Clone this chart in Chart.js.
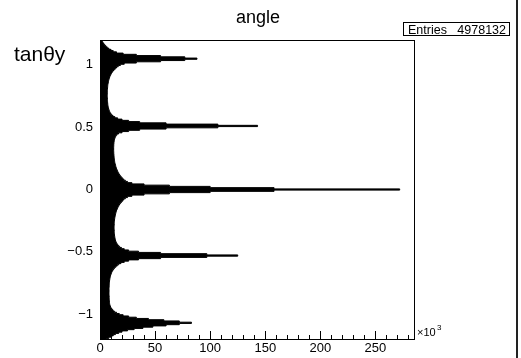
<!DOCTYPE html>
<html>
<head>
<meta charset="utf-8">
<script src="https://cdn.jsdelivr.net/npm/chart.js@4.4.0/dist/chart.umd.min.js"></script>
<style>
  html, body { margin: 0; padding: 0; background: #fff; }
  #wrap { position: relative; width: 521px; height: 358px; }
</style>
</head>
<body>
<div id="wrap"><canvas id="c" width="521" height="358"></canvas></div>
<script>
// histogram "angle": tan(theta_y) from -1.2 to 1.2, bins of 0.01, counts in units of 10^3
const binLow = -1.2;
const binWidth = 0.01;
const counts = [
  6, 8, 10, 12, 14, 17, 20, 25, 31, 39,
  48, 60, 72, 83, 72, 58, 44, 33, 26, 21,
  17.5, 15, 13, 11.8, 10.8, 10, 9.5, 9.1, 8.8, 8.6,
  8.5, 8.4, 8.4, 8.3, 8.3, 8.2, 8.2, 8.2, 8.2, 8.2,
  8.2, 8.2, 8.3, 8.3, 8.4, 8.5, 8.6, 8.7, 8.9, 9.1,
  9.3, 9.6, 10, 10.4, 10.9, 11.5, 12.3, 13.2, 14.3, 15.6,
  17, 19, 22, 26, 35, 55, 97, 125, 97, 55,
  35, 26, 22, 19.5, 17.8, 16.6, 15.7, 15, 14.5, 14.1,
  13.8, 13.6, 13.4, 13.2, 13.1, 13, 12.9, 12.9, 12.8, 12.8,
  12.8, 12.8, 12.9, 12.9, 13, 13.1, 13.2, 13.4, 13.6, 13.8,
  14, 14.3, 14.6, 15, 15.4, 15.9, 16.4, 17, 17.7, 18.5,
  19.5, 20.5, 21.5, 23, 25, 29, 40, 63, 100, 158,
  272,
  158, 100, 63, 40, 29, 25, 23, 21.5, 20.3, 19.3,
  18.4, 17.6, 16.9, 16.3, 15.8, 15.3, 14.9, 14.5, 14.2, 13.9,
  13.6, 13.4, 13.2, 13, 12.9, 12.8, 12.7, 12.6, 12.5, 12.5,
  12.4, 12.4, 12.4, 12.4, 12.5, 12.5, 12.6, 12.7, 12.9, 13.1,
  13.4, 13.8, 14.4, 15.3, 16.8, 20, 26, 36, 60, 107,
  143,
  107, 60, 36, 26, 20, 16, 13.5, 11.8, 10.6, 9.7,
  9, 8.5, 8.1, 7.8, 7.5, 7.3, 7.1, 7, 6.9, 6.8,
  6.7, 6.7, 6.6, 6.6, 6.6, 6.6, 6.6, 6.7, 6.7, 6.8,
  6.9, 7, 7.1, 7.3, 7.5, 7.7, 8, 8.3, 8.7, 9.1,
  9.6, 10.2, 10.9, 11.7, 12.7, 13.8, 15, 16.5, 18.5,
  22,
  33, 55, 77, 88,
  77, 55, 33, 21, 15,
  12, 10, 8, 6.5, 5.3, 4.3, 3.4, 2.6, 2, 1.5
];
const xTicks = [0, 50, 100, 150, 200, 250];
const yTicks = [-1, -0.5, 0, 0.5, 1];
const xMax = 285;
const entries = 4978132;

// step outline: each bin starts at its lower edge; one closing point at the last upper edge
const edge = i => binLow + (i - 0.5) * binWidth;
const points = counts.map((v, i) => ({ x: v, y: edge(i) }));
points.push({ x: counts[counts.length - 1], y: edge(counts.length) });

const FONT = "'Liberation Sans', Arial, Helvetica, sans-serif";
const fmtY = v => v < 0 ? "\u2212" + Math.abs(v) : String(v);

const rootDecor = {
  id: "rootDecor",
  afterDraw(chart) {
    const { ctx, chartArea: a, scales } = chart;
    const xs = scales.x, ys = scales.y;
    ctx.save();
    ctx.strokeStyle = "#000";
    ctx.lineWidth = 1;
    // frame
    ctx.strokeRect(Math.round(a.left) + 0.5, Math.round(a.top) + 0.5,
      Math.round(a.right - a.left), Math.round(a.bottom - a.top));
    // inward ticks, x axis
    ctx.beginPath();
    for (let v = 0; v <= xMax; v += 10) {
      const px = Math.round(xs.getPixelForValue(v)) + 0.5;
      const len = v % 50 === 0 ? 8 : 4;
      ctx.moveTo(px, a.bottom);
      ctx.lineTo(px, a.bottom - len);
    }
    // inward ticks, y axis
    for (let k = -12; k <= 12; k++) {
      const py = Math.round(ys.getPixelForValue(k / 10)) + 0.5;
      const len = k % 5 === 0 ? 8 : 4;
      ctx.moveTo(a.left, py);
      ctx.lineTo(a.left + len, py);
    }
    ctx.stroke();

    ctx.fillStyle = "#000";
    // title
    ctx.font = "18px " + FONT;
    ctx.textAlign = "center";
    ctx.textBaseline = "alphabetic";
    ctx.fillText("angle", 258, 23);
    // axis title
    ctx.font = "21px " + FONT;
    ctx.textAlign = "left";
    ctx.fillText("tan\u03B8y", 14, 61);
    // x10^3
    ctx.font = "11px " + FONT;
    ctx.fillText("\u00D710", a.right + 3, a.bottom - 3);
    ctx.font = "8px " + FONT;
    ctx.fillText("3", a.right + 23, a.bottom - 9);
    // stats box
    ctx.lineWidth = 1;
    ctx.strokeRect(403.5, 22.5, 106, 13);
    ctx.font = "12.5px " + FONT;
    ctx.textAlign = "left";
    ctx.fillText("Entries", 408, 33.5);
    ctx.textAlign = "right";
    ctx.fillText(String(entries), 506, 33.5);
    // canvas right border
    ctx.fillStyle = "#222";
    ctx.fillRect(516, 0, 2, chart.height);
    ctx.restore();
  }
};

new Chart(document.getElementById("c"), {
  type: "line",
  data: {
    datasets: [{
      label: "angle",
      data: points,
      borderColor: "#000",
      backgroundColor: "#000",
      borderWidth: 1,
      pointRadius: 0,
      stepped: "after",
      fill: { value: 0 }
    }]
  },
  options: {
    indexAxis: "y",
    responsive: false,
    animation: false,
    layout: { padding: { left: 0, top: 40, right: 107, bottom: 0 } },
    plugins: { legend: { display: false }, tooltip: { enabled: false }, title: { display: false } },
    scales: {
      x: {
        type: "linear",
        min: 0,
        max: xMax,
        offset: false,
        grid: { display: false, drawTicks: false },
        border: { display: false },
        afterBuildTicks: s => { s.ticks = xTicks.map(v => ({ value: v })); },
        afterFit: s => { s.height = 19; },
        ticks: { padding: 2, color: "#000", font: { family: FONT, size: 13 }, maxRotation: 0 }
      },
      y: {
        type: "linear",
        min: -1.2,
        max: 1.2,
        offset: false,
        grid: { display: false, drawTicks: false },
        border: { display: false },
        afterBuildTicks: s => { s.ticks = yTicks.map(v => ({ value: v })); },
        afterFit: s => { s.width = 100; },
        ticks: { padding: 7, color: "#000", font: { family: FONT, size: 13 }, callback: fmtY }
      }
    }
  },
  plugins: [rootDecor]
});
</script>
</body>
</html>
